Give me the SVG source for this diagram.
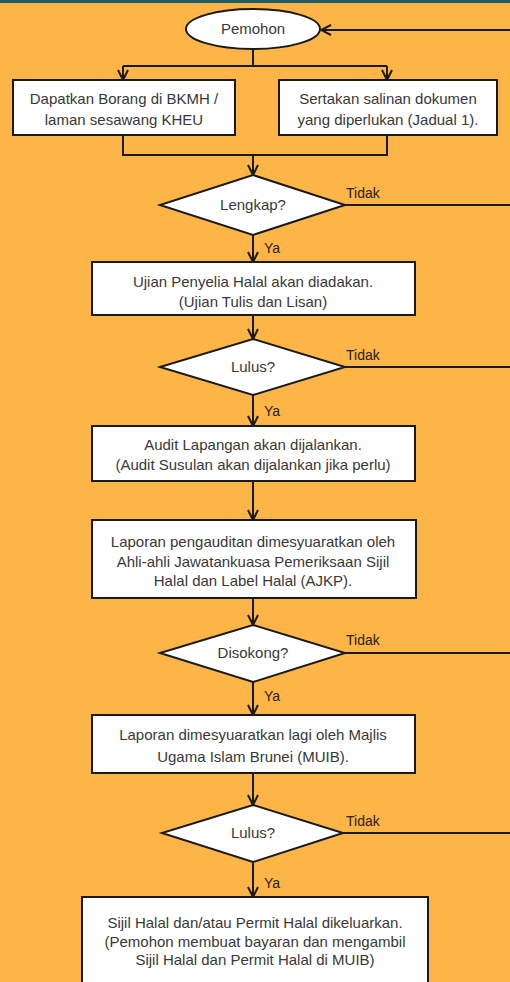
<svg xmlns="http://www.w3.org/2000/svg" width="510" height="982" viewBox="0 0 510 982">
<style>
.bg{fill:#FDB548}
.n{fill:#fff;stroke:#1a1a1a;stroke-width:2}
.t{font-family:"Liberation Sans",Arial,sans-serif;font-size:15px;fill:#383838;text-anchor:middle}
.l{font-family:"Liberation Sans",Arial,sans-serif;font-size:14px;fill:#2a2010}
.c{fill:none;stroke:#1a1a1a;stroke-width:2}
</style>
<defs>
<marker id="ah" viewBox="0 0 12 12" refX="11" refY="6" markerWidth="12" markerHeight="12" markerUnits="userSpaceOnUse" orient="auto">
<path d="M1,1 L11,6 L1,11" fill="none" stroke="#1a1a1a" stroke-width="2"/>
</marker>
</defs>
<rect class="bg" x="0" y="0" width="510" height="982"/>
<rect x="0" y="0" width="510" height="3" fill="#1e5b66"/>

<g id="connectors">
<path class="c" d="M510,30 L321,30" marker-end="url(#ah)"/>
<path class="c" d="M253,50 L253,66"/>
<path class="c" d="M123,66 L387,66"/>
<path class="c" d="M123,66 L123,80" marker-end="url(#ah)"/>
<path class="c" d="M387,66 L387,80" marker-end="url(#ah)"/>
<path class="c" d="M123,135 L123,155 L387,155 L387,135"/>
<path class="c" d="M253,155 L253,175" marker-end="url(#ah)"/>
<path class="c" d="M345,205 L510,205"/>
<path class="c" d="M253,235 L253,262" marker-end="url(#ah)"/>
<path class="c" d="M253,315 L253,339" marker-end="url(#ah)"/>
<path class="c" d="M345,367 L510,367"/>
<path class="c" d="M253,395 L253,426" marker-end="url(#ah)"/>
<path class="c" d="M253,481 L253,520" marker-end="url(#ah)"/>
<path class="c" d="M253,598 L253,625" marker-end="url(#ah)"/>
<path class="c" d="M345,653 L510,653"/>
<path class="c" d="M253,682 L253,715" marker-end="url(#ah)"/>
<path class="c" d="M253,773 L253,805" marker-end="url(#ah)"/>
<path class="c" d="M343,833 L510,833"/>
<path class="c" d="M253,862 L253,897" marker-end="url(#ah)"/>
<text class="l" x="346" y="198">Tidak</text>
<text class="l" x="264" y="253">Ya</text>
<text class="l" x="346" y="360">Tidak</text>
<text class="l" x="264" y="416">Ya</text>
<text class="l" x="346" y="645">Tidak</text>
<text class="l" x="264" y="701">Ya</text>
<text class="l" x="346" y="826">Tidak</text>
<text class="l" x="264" y="888">Ya</text>
</g>

<g id="pemohon">
<ellipse class="n" cx="253" cy="29" rx="67" ry="20"/>
<text class="t" x="253" y="34">Pemohon</text>
</g>
<g id="borang">
<rect class="n" x="13" y="80" width="222" height="55"/>
<text class="t" x="124" y="104">Dapatkan Borang di BKMH /</text>
<text class="t" x="124" y="125">laman sesawang KHEU</text>
</g>
<g id="salinan">
<rect class="n" x="279" y="80" width="218" height="55"/>
<text class="t" x="388" y="104">Sertakan salinan dokumen</text>
<text class="t" x="388" y="125">yang diperlukan (Jadual 1).</text>
</g>
<g id="lengkap">
<polygon class="n" points="253,175 345,205 253,235 160,205"/>
<text class="t" x="253" y="210">Lengkap?</text>
</g>
<g id="ujian">
<rect class="n" x="92" y="262" width="323" height="53"/>
<text class="t" x="253" y="287">Ujian Penyelia Halal akan diadakan.</text>
<text class="t" x="253" y="307">(Ujian Tulis dan Lisan)</text>
</g>
<g id="lulus1">
<polygon class="n" points="253,339 345,367 253,395 160,367"/>
<text class="t" x="253" y="372">Lulus?</text>
</g>
<g id="audit">
<rect class="n" x="92" y="426" width="323" height="55"/>
<text class="t" x="253" y="450">Audit Lapangan akan dijalankan.</text>
<text class="t" x="253" y="470">(Audit Susulan akan dijalankan jika perlu)</text>
</g>
<g id="laporan">
<rect class="n" x="92" y="520" width="324" height="78"/>
<text class="t" x="253" y="547">Laporan pengauditan dimesyuaratkan oleh</text>
<text class="t" x="253" y="567">Ahli-ahli Jawatankuasa Pemeriksaan Sijil</text>
<text class="t" x="253" y="586">Halal dan Label Halal (AJKP).</text>
</g>
<g id="disokong">
<polygon class="n" points="253,625 345,653 253,682 160,653"/>
<text class="t" x="253" y="658">Disokong?</text>
</g>
<g id="muib">
<rect class="n" x="92" y="715" width="323" height="58"/>
<text class="t" x="253" y="740">Laporan dimesyuaratkan lagi oleh Majlis</text>
<text class="t" x="253" y="762">Ugama Islam Brunei (MUIB).</text>
</g>
<g id="lulus2">
<polygon class="n" points="253,805 343,833 253,862 162,833"/>
<text class="t" x="253" y="838">Lulus?</text>
</g>
<g id="sijil">
<rect class="n" x="82" y="897" width="346" height="100"/>
<text class="t" x="255" y="928">Sijil Halal dan/atau Permit Halal dikeluarkan.</text>
<text class="t" x="255" y="947">(Pemohon membuat bayaran dan mengambil</text>
<text class="t" x="255" y="965">Sijil Halal dan Permit Halal di MUIB)</text>
</g>
</svg>
